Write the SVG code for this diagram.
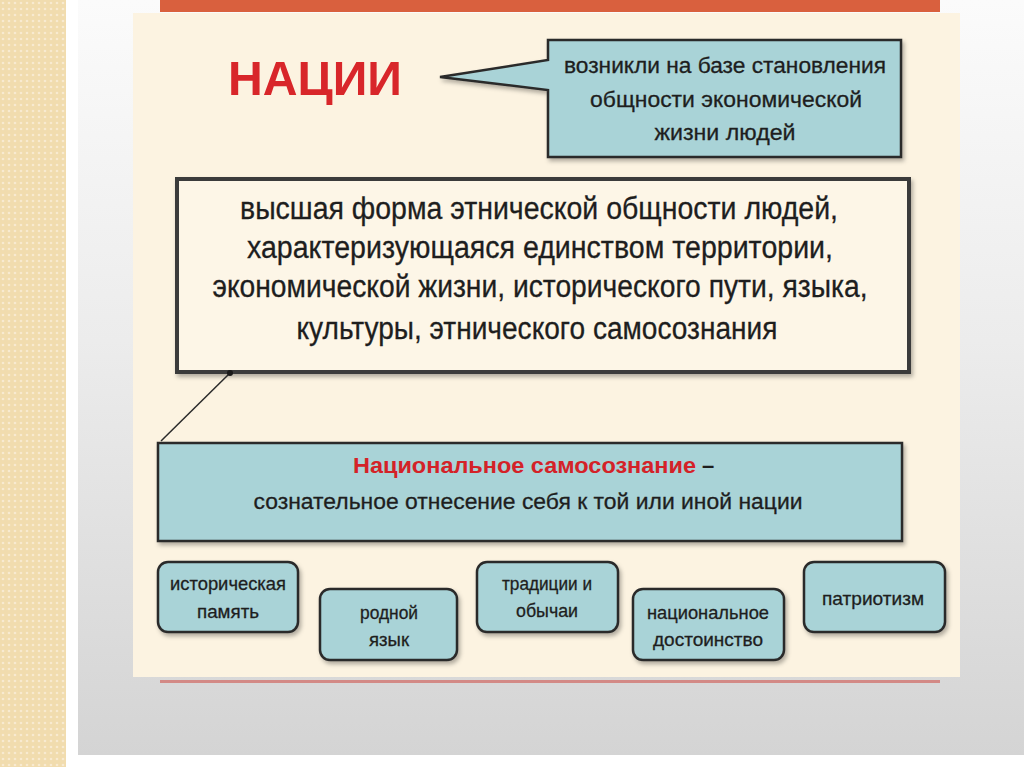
<svg xmlns="http://www.w3.org/2000/svg" width="1024" height="767" viewBox="0 0 1024 767">
<defs>
<linearGradient id="bg" x1="0" y1="0" x2="0" y2="1">
<stop offset="0" stop-color="#fbfbfb"/>
<stop offset="0.45" stop-color="#ececec"/>
<stop offset="1" stop-color="#d4d4d4"/>
</linearGradient>
<pattern id="dots" width="6" height="6" patternUnits="userSpaceOnUse">
<rect width="6" height="6" fill="#f1dcae"/>
<circle cx="3" cy="3" r="1.3" fill="#f8ead0"/>
</pattern>
<filter id="sh" x="-10%" y="-10%" width="120%" height="130%">
<feDropShadow dx="2" dy="3" stdDeviation="2" flood-color="#000" flood-opacity="0.3"/>
</filter>
</defs>
<style>
.teal{fill:#a9d3d7;stroke:#2b2b2b;stroke-width:2.5}
.t{font-family:"Liberation Sans",Arial,sans-serif;fill:#1e1e1e;text-anchor:middle;stroke:#1e1e1e;stroke-width:0.3}
.sm{font-size:18.5px}
.cb{font-size:22.5px}
.mn{font-size:31px}
</style>
<!-- background -->
<rect x="0" y="0" width="1024" height="767" fill="#ffffff"/>
<rect x="0" y="0" width="66" height="767" fill="url(#dots)"/>
<rect x="78" y="0" width="946" height="755" fill="url(#bg)"/>
<rect x="133" y="13" width="827" height="664" fill="#fcf3e1"/>
<rect x="160" y="0" width="780" height="12" fill="#d9603e"/>
<rect x="160" y="680" width="780" height="3" fill="#d38a86"/>

<g id="title">
<text x="228" y="95" font-family="Liberation Sans,Arial,sans-serif" font-weight="bold" font-size="49" fill="#d8262a" textLength="174" lengthAdjust="spacingAndGlyphs">НАЦИИ</text>
</g>

<g id="callout">
<path class="teal" filter="url(#sh)" d="M548,40 H901 V157 H548 V90 L440,77 L548,60 Z"/>
<text class="t cb" x="725" y="73" textLength="322" lengthAdjust="spacingAndGlyphs">возникли на базе становления</text>
<text class="t cb" x="726" y="107" textLength="272" lengthAdjust="spacingAndGlyphs">общности экономической</text>
<text class="t cb" x="725" y="140" textLength="141" lengthAdjust="spacingAndGlyphs">жизни людей</text>
</g>

<g id="definition">
<rect x="177" y="179" width="732" height="193" fill="#fdf6e7" stroke="#3a3a3a" stroke-width="4" filter="url(#sh)"/>
<text class="t mn" x="539" y="219" textLength="598" lengthAdjust="spacingAndGlyphs">высшая форма этнической общности людей,</text>
<text class="t mn" x="540" y="258" textLength="586" lengthAdjust="spacingAndGlyphs">характеризующаяся единством территории,</text>
<text class="t mn" x="540" y="297" textLength="655" lengthAdjust="spacingAndGlyphs">экономической жизни, исторического пути, языка,</text>
<text class="t mn" x="537" y="339" textLength="481" lengthAdjust="spacingAndGlyphs">культуры, этнического самосознания</text>
</g>

<g id="connectors">
<line x1="230" y1="373" x2="161" y2="441" stroke="#2a2a2a" stroke-width="1.5"/>
<circle cx="230" cy="373" r="3" fill="#1a1a1a"/>
</g>

<g id="self-awareness">
<rect class="teal" x="158" y="443" width="744" height="98" filter="url(#sh)"/>
<text x="353" y="473" font-family="Liberation Sans,Arial,sans-serif" font-size="22" font-weight="bold"><tspan fill="#d42228" textLength="343" lengthAdjust="spacingAndGlyphs">Национальное самосознание</tspan><tspan fill="#1e1e1e"> –</tspan></text>
<text class="t cb" x="528" y="509" textLength="549" lengthAdjust="spacingAndGlyphs">сознательное отнесение себя к той или иной нации</text>
</g>

<g id="memory">
<rect class="teal" x="158" y="562" width="140" height="70" rx="10" filter="url(#sh)"/>
<text class="t sm" x="228" y="590" textLength="116" lengthAdjust="spacingAndGlyphs">историческая</text>
<text class="t sm" x="228" y="618" textLength="62" lengthAdjust="spacingAndGlyphs">память</text>
</g>

<g id="language">
<rect class="teal" x="320" y="589" width="137" height="71" rx="10" filter="url(#sh)"/>
<text class="t sm" x="389" y="619" textLength="58" lengthAdjust="spacingAndGlyphs">родной</text>
<text class="t sm" x="389" y="646" textLength="40" lengthAdjust="spacingAndGlyphs">язык</text>
</g>

<g id="traditions">
<rect class="teal" x="477" y="562" width="141" height="70" rx="10" filter="url(#sh)"/>
<text class="t sm" x="547" y="590" textLength="90" lengthAdjust="spacingAndGlyphs">традиции и</text>
<text class="t sm" x="547" y="617" textLength="62" lengthAdjust="spacingAndGlyphs">обычаи</text>
</g>

<g id="dignity">
<rect class="teal" x="633" y="589" width="151" height="71" rx="10" filter="url(#sh)"/>
<text class="t sm" x="708" y="619" textLength="122" lengthAdjust="spacingAndGlyphs">национальное</text>
<text class="t sm" x="708" y="646" textLength="110" lengthAdjust="spacingAndGlyphs">достоинство</text>
</g>

<g id="patriotism">
<rect class="teal" x="804" y="562" width="141" height="70" rx="10" filter="url(#sh)"/>
<text class="t sm" x="873" y="605" textLength="102" lengthAdjust="spacingAndGlyphs">патриотизм</text>
</g>
</svg>
